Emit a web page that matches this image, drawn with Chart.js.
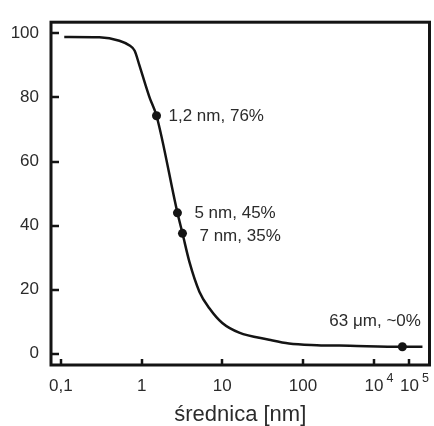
<!DOCTYPE html>
<html>
<head>
<meta charset="utf-8">
<script src="https://cdn.jsdelivr.net/npm/chart.js@4.4.0/dist/chart.umd.min.js"></script>
<style>
  html, body { margin: 0; padding: 0; background: #fff; }
  canvas { display: block; }
</style>
</head>
<body>
<canvas id="chart" width="434" height="426"></canvas>
<script>
// curve: diameter [nm] vs percent
const diameters = [0.11, 0.3, 0.53, 0.71, 0.82, 0.94, 1.09, 1.26, 1.53, 2.78, 3.21, 3.92, 5.2, 6.92, 10, 16.2, 38, 67, 247, 2090, 63000, 232000];
const percents = [98.9, 98.8, 97.7, 96.2, 94.6, 90.0, 84.8, 79.9, 74.3, 44.0, 37.6, 28.6, 19.4, 14.2, 9.6, 6.6, 4.4, 3.2, 2.7, 2.5, 2.2, 2.2];

// marked points
const markerDiameters = [1.53, 2.78, 3.21, 63000];
const markerPercents = [74.3, 44.0, 37.6, 2.2];
const markerLabels = ['1,2 nm, 76%', '5 nm, 45%', '7 nm, 35%', '63 \u03bcm, ~0%'];

// axes
const xTickValues = [0.1, 1, 10, 100, 1e4, 1e5];
const xTickLabels = ['0,1', '1', '10', '100', '10', '10'];
const xTickExponents = ['', '', '', '', '4', '5'];
const yTickValues = [0, 20, 40, 60, 80, 100];

// the x axis is logarithmic but squeezed above 100 nm
function axisPos(d) {
    const l = Math.log10(d);
    return l <= 2 ? l : 2 + (l - 2) * 0.44;
}

const ink = '#141414';
const textColor = '#2b2b2b';
const fontFamily = '"Liberation Sans", Arial, sans-serif';

const curve = diameters.map((d, i) => ({ x: axisPos(d), y: percents[i] }));
const markers = markerDiameters.map((d, i) => ({ x: axisPos(d), y: markerPercents[i] }));

const labelOffsets = [[12, 1], [17, 0], [17, 3], [-73, -25]];

const framePlugin = {
    id: 'frame',
    afterDatasetsDraw(chart) {
        const { ctx, chartArea: a, scales: { x, y } } = chart;
        ctx.save();
        ctx.strokeStyle = ink;
        ctx.lineWidth = 3;
        ctx.strokeRect(a.left, a.top, a.right - a.left, a.bottom - a.top);

        // inward ticks
        ctx.lineWidth = 2.5;
        ctx.beginPath();
        xTickValues.forEach(v => {
            const px = Math.round(x.getPixelForValue(axisPos(v)));
            ctx.moveTo(px, a.bottom);
            ctx.lineTo(px, a.bottom - 6);
        });
        yTickValues.forEach(v => {
            const py = Math.round(y.getPixelForValue(v));
            ctx.moveTo(a.left, py);
            ctx.lineTo(a.left + 8, py);
        });
        ctx.stroke();

        // exponents of 10^4, 10^5
        ctx.fillStyle = textColor;
        ctx.textBaseline = 'alphabetic';
        ctx.textAlign = 'left';
        xTickValues.forEach((v, i) => {
            if (!xTickExponents[i]) return;
            ctx.font = '17px ' + fontFamily;
            const w = ctx.measureText(xTickLabels[i]).width;
            const px = x.getPixelForValue(axisPos(v));
            ctx.font = '12.5px ' + fontFamily;
            ctx.fillText(xTickExponents[i], px + w / 2 + 3, a.bottom + 17);
        });

        // point labels
        ctx.font = '17px ' + fontFamily;
        ctx.textBaseline = 'middle';
        markers.forEach((m, i) => {
            const px = x.getPixelForValue(m.x);
            const py = y.getPixelForValue(m.y);
            ctx.fillText(markerLabels[i], px + labelOffsets[i][0], py + labelOffsets[i][1]);
        });
        ctx.restore();
    }
};

new Chart(document.getElementById('chart'), {
    type: 'line',
    data: {
        datasets: [
            {
                data: curve,
                borderColor: ink,
                borderWidth: 2.5,
                pointRadius: 0,
                cubicInterpolationMode: 'monotone',
                fill: false
            },
            {
                data: markers,
                showLine: false,
                pointRadius: 4.5,
                pointBackgroundColor: ink,
                pointBorderColor: ink,
                pointBorderWidth: 0
            }
        ]
    },
    options: {
        responsive: false,
        animation: false,
        events: [],
        layout: { padding: { top: 16, right: 3, left: 0, bottom: 0 } },
        plugins: {
            legend: { display: false },
            tooltip: { enabled: false }
        },
        scales: {
            x: {
                type: 'linear',
                min: -1.123,
                max: 3.568,
                grid: { display: false, drawTicks: false },
                border: { display: false },
                afterBuildTicks: s => { s.ticks = xTickValues.map(v => ({ value: axisPos(v) })); },
                afterFit: s => { s.height = 61; },
                ticks: {
                    autoSkip: false,
                    maxRotation: 0,
                    padding: 11,
                    color: textColor,
                    font: { family: fontFamily, size: 17 },
                    callback: (v, i) => xTickLabels[i]
                },
                title: {
                    display: true,
                    text: 'średnica [nm]',
                    color: textColor,
                    font: { family: fontFamily, size: 22, lineHeight: 1 },
                    padding: { top: 0, bottom: 0 }
                }
            },
            y: {
                min: -3.5,
                max: 103.5,
                grid: { display: false, drawTicks: false },
                border: { display: false },
                afterBuildTicks: s => { s.ticks = yTickValues.map(v => ({ value: v })); },
                afterFit: s => { s.width = 51; },
                ticks: {
                    padding: 12,
                    color: textColor,
                    font: { family: fontFamily, size: 17 }
                }
            }
        }
    },
    plugins: [framePlugin]
});
</script>
</body>
</html>
